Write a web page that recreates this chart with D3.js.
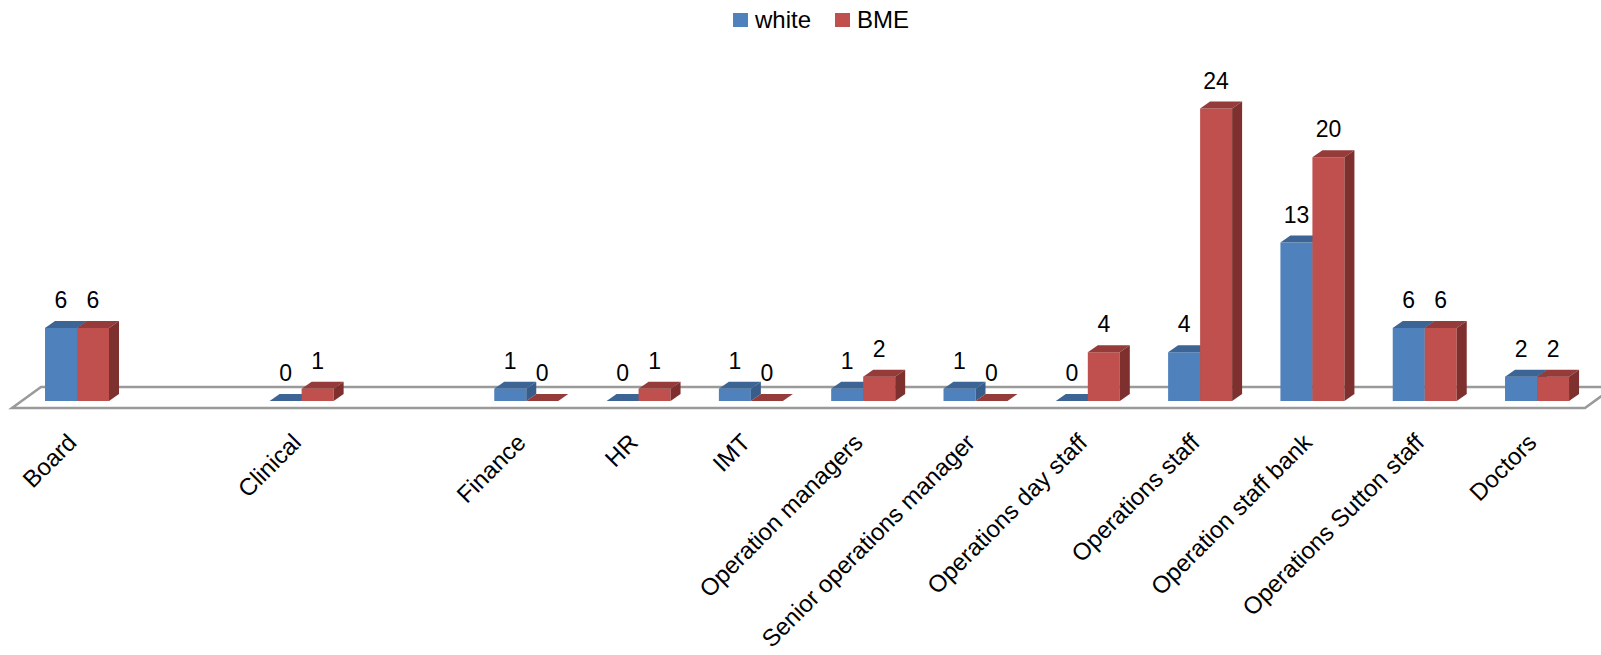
<!DOCTYPE html>
<html>
<head>
<meta charset="utf-8">
<script src="https://cdn.jsdelivr.net/npm/d3@7"></script>
<style>
  body { margin: 0; background: #fff; }
  svg text { font-family: "Liberation Sans", Arial, sans-serif; fill: #000; }
</style>
</head>
<body>
<script>
// two blank slots sit between Board / Clinical / Finance in the original
const categories = ["Board", "", "Clinical", "", "Finance", "HR", "IMT", "Operation managers",
  "Senior operations manager", "Operations day staff", "Operations staff",
  "Operation staff bank", "Operations Sutton staff", "Doctors"];
const white = [6, null, 0, null, 1, 0, 1, 1, 1, 0, 4, 13, 6, 2];
const bme = [6, null, 1, null, 0, 1, 0, 2, 0, 4, 24, 20, 6, 2];
const seriesNames = ["white", "BME"];

const colors = {
  white: { front: "#4F81BD", top: "#3C6494", side: "#385D8A" },
  BME: { front: "#C0504D", top: "#953B39", side: "#7D302E" }
};

const W = 1601, H = 655;
const dx = 10, dy = -7;       // bar depth
const fdx = 29, fdy = -21;    // floor depth
const base = 401;

const svg = d3.select("body").append("svg")
  .attr("width", W)
  .attr("height", H);

const x0 = d3.scaleBand()
  .domain(d3.range(categories.length))
  .range([20.85, 1593.2]);
const x1 = d3.scaleBand()
  .domain(seriesNames)
  .range([0, 64]);
const y = d3.scaleLinear()
  .domain([0, 24])
  .range([base, 108.5]);

// floor
const fl = 12, fr = 1585, fy = 408;
svg.append("path")
  .attr("d", `M${fl},${fy}L${fr},${fy}L${fr + fdx},${fy + fdy}L${fl + fdx},${fy + fdy}Z`)
  .attr("fill", "#fff")
  .attr("stroke", "#9a9a9a")
  .attr("stroke-width", 2.5);

const bars = [];
categories.forEach((c, i) => {
  [white, bme].forEach((arr, s) => {
    if (arr[i] == null) return;
    bars.push({ i, series: seriesNames[s], value: arr[i] });
  });
});

const bw = x1.bandwidth();
const g = svg.append("g");
const barG = g.selectAll("g.bar")
  .data(bars)
  .enter()
  .append("g")
  .attr("class", "bar");

function cx(d) {
  return x0(d.i) + x0.step() / 2 - 32 + x1(d.series);
}

barG.append("rect")
  .attr("x", d => cx(d))
  .attr("y", d => y(d.value))
  .attr("width", bw)
  .attr("height", d => base - y(d.value))
  .attr("fill", d => colors[d.series].front);

barG.append("path")
  .attr("d", d => {
    const x = cx(d), t = y(d.value);
    return `M${x},${t}L${x + dx},${t + dy}L${x + bw + dx},${t + dy}L${x + bw},${t}Z`;
  })
  .attr("fill", d => colors[d.series].top);

barG.append("path")
  .attr("d", d => {
    const x = cx(d) + bw, t = y(d.value);
    return `M${x},${t}L${x + dx},${t + dy}L${x + dx},${base + dy}L${x},${base}Z`;
  })
  .attr("fill", d => colors[d.series].side);

// value labels
svg.append("g")
  .selectAll("text")
  .data(bars)
  .enter()
  .append("text")
  .attr("x", d => cx(d) + bw / 2)
  .attr("y", d => y(d.value) - 20)
  .attr("text-anchor", "middle")
  .style("font-size", "23px")
  .text(d => d.value);

// category labels
svg.append("g")
  .selectAll("text")
  .data(categories)
  .enter()
  .append("text")
  .attr("transform", (d, i) => `translate(${x0(i) + x0.step() / 2 + 1},444) rotate(-45)`)
  .attr("text-anchor", "end")
  .style("font-size", "24px")
  .text(d => d);

// legend
const legend = svg.append("g");
const lx = [733, 835];
seriesNames.forEach((s, k) => {
  legend.append("rect")
    .attr("x", lx[k])
    .attr("y", 13)
    .attr("width", 15)
    .attr("height", 14)
    .attr("fill", colors[s].front);
  legend.append("text")
    .attr("x", lx[k] + 22)
    .attr("y", 27.5)
    .style("font-size", "24px")
    .text(s);
});
</script>
</body>
</html>
